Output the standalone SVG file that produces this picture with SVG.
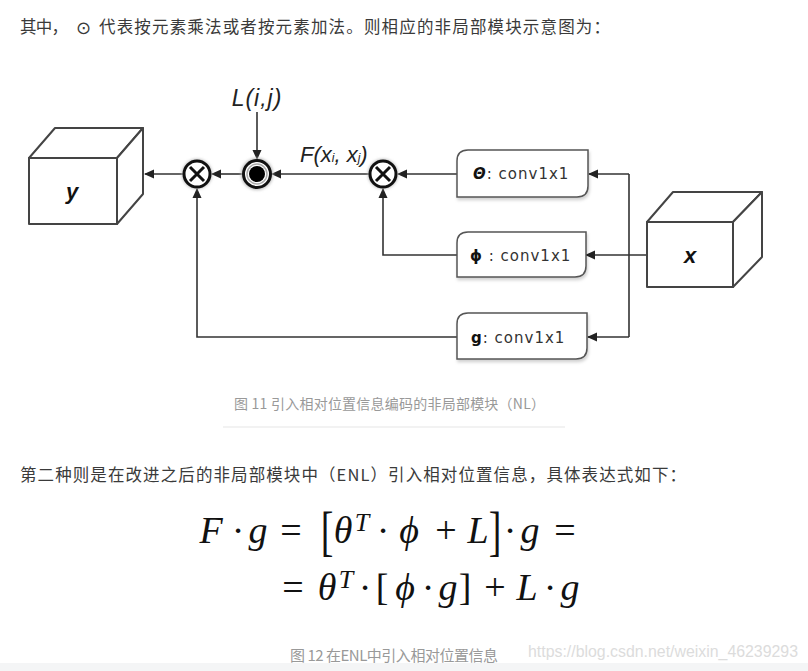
<svg xmlns="http://www.w3.org/2000/svg" width="808" height="671" viewBox="0 0 808 671">
<defs>
<style>
.para{font-family:"Noto Sans CJK SC","Noto Sans",sans-serif;font-size:16.5px;fill:#3a3a3a}
.cap{font-family:"Noto Sans CJK SC","Noto Sans",sans-serif;font-size:14px;fill:#999}
.cube{fill:#fff;stroke:#444;stroke-width:2;stroke-linejoin:round}
.clbl{font-family:"Liberation Sans",Arial,sans-serif;font-size:22px;font-weight:bold;font-style:italic;fill:#111;text-anchor:middle}
.box{fill:#fff;stroke:#555;stroke-width:1.5;filter:url(#sh)}
.btxt{font-family:"DejaVu Sans",sans-serif;font-size:15px;fill:#333;letter-spacing:1px}
.sym{font-weight:bold;fill:#111}
.edge{fill:none;stroke:#333;stroke-width:1.6;marker-end:url(#ah)}
.line{fill:none;stroke:#333;stroke-width:1.6}
.op{fill:#fff;stroke:#111;stroke-width:3}
.lab{font-family:"Liberation Sans",Arial,sans-serif;font-style:italic;fill:#222}
.m{font-family:"Liberation Serif","Times New Roman",serif;fill:#111;text-anchor:middle}
.mi{font-style:italic}
</style>
<marker id="ah" markerWidth="10" markerHeight="10" refX="9" refY="5" orient="auto" markerUnits="userSpaceOnUse"><path d="M0,0.5 L10,5 L0,9.5 z" fill="#222"/></marker>
<filter id="sh" x="-10%" y="-10%" width="125%" height="140%"><feDropShadow dx="1" dy="2.5" stdDeviation="1.5" flood-color="#000" flood-opacity="0.18"/></filter>
<filter id="glow" x="-50%" y="-50%" width="200%" height="200%"><feGaussianBlur stdDeviation="1.5"/></filter>
</defs>
<rect width="808" height="671" fill="#fff"/>
<rect x="0" y="663" width="808" height="8" fill="#f4f5f6"/>

<text class="para" x="20" y="33" textLength="48" lengthAdjust="spacing">其中，</text>
<text x="76" y="34" font-family="DejaVu Sans,sans-serif" font-size="18" fill="#3a3a3a">⊙</text>
<text class="para" x="99" y="33" textLength="511" lengthAdjust="spacing">代表按元素乘法或者按元素加法。则相应的非局部模块示意图为：</text>

<g id="connectors">
<path class="edge" d="M183,174 L145,174"/>
<path class="edge" d="M243,174 L212,174"/>
<path class="edge" d="M369,174 L272,174"/>
<path class="edge" d="M457,174 L398,174"/>
<path class="edge" d="M257,112 L257,159"/>
<path class="edge" d="M457,255 L383,255 L383,189"/>
<path class="edge" d="M457,337 L197,337 L197,189"/>
<path class="line" d="M629,255 L629,174"/>
<path class="line" d="M629,255 L629,337"/>
<path class="edge" d="M629,174 L589,174"/>
<path class="edge" d="M629,337 L588,337"/>
<path class="edge" d="M647,255 L586,255"/>
</g>

<g id="node-y">
<polygon class="cube" points="29,158 55,128 143,128 117,158"/>
<polygon class="cube" points="117,158 143,128 143,194 117,224"/>
<rect class="cube" x="29" y="158" width="88" height="66"/>
<text class="clbl" x="72" y="199">y</text>
</g>

<g id="node-x">
<polygon class="cube" points="647,222 673,192 762,192 733,222"/>
<polygon class="cube" points="733,222 762,192 762,257 733,287"/>
<rect class="cube" x="647" y="222" width="86" height="65"/>
<text class="clbl" x="690" y="263">x</text>
</g>

<g id="node-mul1">
<circle cx="197" cy="174" r="15" fill="#bbb" filter="url(#glow)"/>
<circle class="op" cx="197" cy="174" r="13"/>
<path d="M190,167 L204,181 M204,167 L190,181" stroke="#111" stroke-width="3"/>
</g>

<g id="node-dot">
<circle cx="257" cy="174" r="16" fill="#bbb" filter="url(#glow)"/>
<circle class="op" cx="257" cy="174" r="13.5"/>
<circle cx="257" cy="174" r="10" fill="none" stroke="#aaa" stroke-width="1.5"/>
<circle cx="257" cy="174" r="8" fill="#000"/>
</g>

<g id="node-mul2">
<circle cx="383" cy="174" r="15" fill="#bbb" filter="url(#glow)"/>
<circle class="op" cx="383" cy="174" r="13"/>
<path d="M376,167 L390,181 M390,167 L376,181" stroke="#111" stroke-width="3"/>
</g>

<g id="label-L">
<text class="lab" x="257" y="106" font-size="23" text-anchor="middle" letter-spacing="1">L(i,j)</text>
</g>
<g id="label-F">
<text class="lab" x="300" y="162" font-size="22">F(x<tspan font-size="12">i</tspan>, x<tspan font-size="12">j</tspan>)</text>
</g>

<g id="node-theta">
<path class="box" d="M457,197 L457,161 Q457,150 468,150 L588,150 L588,186 Q588,197 577,197 Z"/>
<text class="btxt" x="473" y="179"><tspan class="sym" font-style="italic">Θ</tspan>: conv1x1</text>
</g>

<g id="node-phi">
<path class="box" d="M457,277 L457,243 Q457,232 468,232 L586,232 L586,266 Q586,277 575,277 Z"/>
<text class="btxt" x="470" y="261"><tspan class="sym">ϕ</tspan> : conv1x1</text>
</g>

<g id="node-g">
<path class="box" d="M457,359 L457,324 Q457,313 468,313 L587,313 L587,348 Q587,359 576,359 Z"/>
<text class="btxt" x="471" y="343"><tspan class="sym">g</tspan>: conv1x1</text>
</g>

<text class="cap" x="234" y="409" textLength="311" lengthAdjust="spacing">图 11 引入相对位置信息编码的非局部模块（NL）</text>
<line x1="223" y1="427" x2="565" y2="427" stroke="#eee" stroke-width="1.5"/>

<text class="para" x="20" y="481" textLength="666" lengthAdjust="spacing">第二种则是在改进之后的非局部模块中（ENL）引入相对位置信息，具体表达式如下：</text>

<g id="formula">
<text class="m" y="543" style="font-size:38px">
<tspan class="mi" x="211">F</tspan><tspan x="238">·</tspan><tspan class="mi" x="258">g</tspan><tspan x="291">=</tspan><tspan class="mi" x="343">θ</tspan><tspan x="383">·</tspan><tspan class="mi" x="409">ϕ</tspan><tspan x="446">+</tspan><tspan class="mi" x="478">L</tspan><tspan x="510">·</tspan><tspan class="mi" x="530">g</tspan><tspan x="565">=</tspan>
</text>
<text class="m mi" x="362" y="531" style="font-size:26px">T</text>
<text class="m" transform="translate(327,550) scale(1,1.45)" style="font-size:38px">[</text>
<text class="m" transform="translate(495,550) scale(1,1.45)" style="font-size:38px">]</text>
<text class="m" y="600" style="font-size:38px">
<tspan x="293">=</tspan><tspan class="mi" x="327">θ</tspan><tspan x="365">·</tspan><tspan x="382">[</tspan><tspan class="mi" x="405">ϕ</tspan><tspan x="428">·</tspan><tspan class="mi" x="448">g</tspan><tspan x="465">]</tspan><tspan x="495">+</tspan><tspan class="mi" x="527">L</tspan><tspan x="550">·</tspan><tspan class="mi" x="570">g</tspan>
</text>
<text class="m mi" x="346" y="588" style="font-size:26px">T</text>
</g>

<text class="cap" x="290" y="661" textLength="208" lengthAdjust="spacing" style="font-size:15px">图 12 在ENL中引入相对位置信息</text>
<text x="528" y="657" font-family="Liberation Sans,Arial,sans-serif" font-size="16" fill="#dcdcdc" textLength="270" lengthAdjust="spacingAndGlyphs">https://blog.csdn.net/weixin_46239293</text>
</svg>
